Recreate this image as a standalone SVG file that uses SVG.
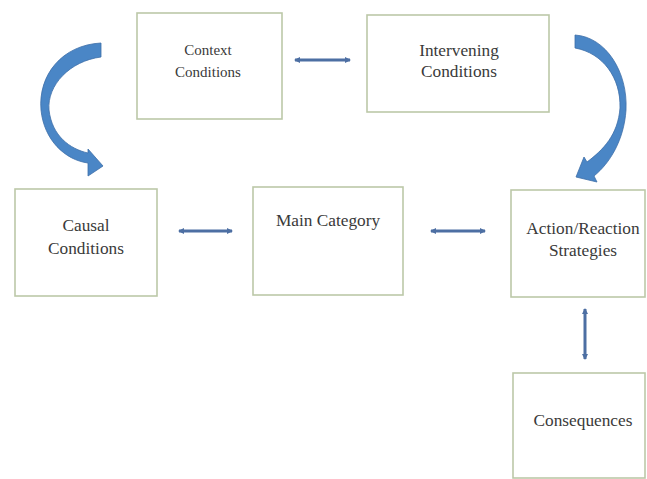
<svg xmlns="http://www.w3.org/2000/svg" width="647" height="479" viewBox="0 0 647 479">
<defs>
<style>
.box{fill:#ffffff;stroke:#bcc8a8;stroke-width:1.6}
.lbl{font-family:'Liberation Serif','DejaVu Serif','Times New Roman',serif;font-size:17.3px;fill:#3a3a3a;text-anchor:middle}
.sm{font-size:15px}
.con{stroke:#4d6fa3;stroke-width:3;fill:none}
.big{fill:#4a86c6;stroke:#3d6fa8;stroke-width:0.8}
</style>
<marker id="ah" viewBox="0 0 6 6" refX="5" refY="3" markerWidth="2" markerHeight="2" orient="auto-start-reverse" markerUnits="strokeWidth">
<path d="M0,0 L6,3 L0,6 Z" fill="#4d6fa3"/>
</marker>
</defs>
<rect width="647" height="479" fill="#ffffff"/>
<g id="context" font-family="Liberation Serif, serif">
<rect class="box" x="137" y="13" width="145" height="106"/>
<text class="lbl sm" x="208" y="55">Context</text>
<text class="lbl sm" x="208" y="77">Conditions</text>
</g>
<g id="intervening" font-family="Liberation Serif, serif">
<rect class="box" x="367" y="15" width="182" height="97"/>
<text class="lbl" x="459" y="56">Intervening</text>
<text class="lbl" x="459" y="77">Conditions</text>
</g>
<g id="causal" font-family="Liberation Serif, serif">
<rect class="box" x="15" y="189" width="142" height="107"/>
<text class="lbl" x="86" y="231">Causal</text>
<text class="lbl" x="86" y="254">Conditions</text>
</g>
<g id="main" font-family="Liberation Serif, serif">
<rect class="box" x="253" y="187" width="150" height="108"/>
<text class="lbl" x="328" y="226">Main Category</text>
</g>
<g id="action" font-family="Liberation Serif, serif">
<rect class="box" x="511" y="190" width="134" height="107"/>
<text class="lbl" x="583" y="234">Action/Reaction</text>
<text class="lbl" x="583" y="256">Strategies</text>
</g>
<g id="consequences" font-family="Liberation Serif, serif">
<rect class="box" x="513" y="373" width="132" height="105"/>
<text class="lbl" x="583" y="426">Consequences</text>
</g>
<g id="connectors">
<line class="con" x1="295" y1="60" x2="350" y2="60" marker-start="url(#ah)" marker-end="url(#ah)"/>
<line class="con" x1="179" y1="231" x2="232" y2="231" marker-start="url(#ah)" marker-end="url(#ah)"/>
<line class="con" x1="431" y1="231" x2="485" y2="231" marker-start="url(#ah)" marker-end="url(#ah)"/>
<line class="con" x1="585" y1="309" x2="585" y2="359" marker-start="url(#ah)" marker-end="url(#ah)"/>
<path class="big" d="M101,43 C62,45 38,75 41,110 C44,140 65,160 88,163 L88,176 L103,166 L88,149 L88,153 C70,149 52,136 49,110 C47,85 70,61 101,57 Z"/>
<path class="big" d="M575,35 C606,37 628,72 626,110 C624,140 610,163 594,176 L597,182 L576,177 L584,157 L587,162 C603,150 618,135 620,108 C621,78 603,53 575,48 Z"/>
</g>
</svg>
